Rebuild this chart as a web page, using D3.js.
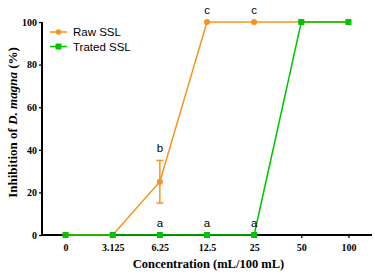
<!DOCTYPE html>
<html>
<head>
<meta charset="utf-8">
<script src="https://cdn.jsdelivr.net/npm/d3@7"></script>
<style>
  body { margin: 0; background: #fff; }
  svg { display: block; }
</style>
</head>
<body>
<svg id="chart"></svg>
<script>
// data
const concentrations = ['0', '3.125', '6.25', '12.5', '25', '50', '100'];
const rawValues = [0, 0, 25, 100, 100, 100, 100];
const rawErrors = [0, 0, 10, 0, 0, 0, 0];
const treatedValues = [0, 0, 0, 0, 0, 100, 100];
const rawLetters = ['', '', 'b', 'c', 'c', '', ''];
const treatedLetters = ['', '', 'a', 'a', 'a', '', ''];
const yTicks = [0, 20, 40, 60, 80, 100];

const width = 375, height = 277;
const margin = {top: 22, right: 3, bottom: 42, left: 42};
const orange = '#f7931e', green = '#00c400';

const svg = d3.select('#chart').attr('width', width).attr('height', height);

const x = d3.scalePoint()
    .domain(concentrations)
    .range([margin.left, width - margin.right])
    .padding(0.5);

const y = d3.scaleLinear()
    .domain([0, 100])
    .range([height - margin.bottom, margin.top]);

// axes
const xAxis = svg.append('g')
    .attr('transform', `translate(0,${y(0)})`)
    .call(d3.axisBottom(x).tickSize(3).tickPadding(6));
const yAxis = svg.append('g')
    .attr('transform', `translate(${margin.left},0)`)
    .call(d3.axisLeft(y).tickValues(yTicks).tickSize(3).tickPadding(2));

[xAxis, yAxis].forEach(g => {
    g.select('.domain').attr('stroke', '#000').attr('stroke-width', 2);
    g.selectAll('.tick line').attr('stroke', '#000').attr('stroke-width', 1.3);
    g.selectAll('.tick text')
        .attr('fill', '#000')
        .style('font-family', '"Liberation Serif", "Times New Roman", serif')
        .style('font-weight', 'bold')
        .style('font-size', '10px');
});
yAxis.select('.domain').attr('d', `M0,${y(0)}V${y(100)}`);
xAxis.select('.domain').attr('d', `M${margin.left},0H${width - margin.right}`);

// axis titles
svg.append('text')
    .attr('x', (margin.left + width) / 2)
    .attr('y', 268)
    .attr('text-anchor', 'middle')
    .style('font-family', '"Liberation Serif", "Times New Roman", serif')
    .style('font-weight', 'bold')
    .style('font-size', '12.5px')
    .text('Concentration (mL/100 mL)');

const yTitle = svg.append('text')
    .attr('transform', `translate(17,${(y(0) + y(100)) / 2 - 6}) rotate(-90)`)
    .attr('text-anchor', 'middle')
    .style('font-family', '"Liberation Serif", "Times New Roman", serif')
    .style('font-weight', 'bold')
    .style('font-size', '13px');
yTitle.append('tspan').text('Inhibition of ');
yTitle.append('tspan').style('font-style', 'italic').text('D. magna');
yTitle.append('tspan').text(' (%)');

const line = d3.line()
    .x((d, i) => x(concentrations[i]))
    .y(d => y(d));

// raw series
svg.append('path')
    .datum(rawValues)
    .attr('d', line)
    .attr('fill', 'none')
    .attr('stroke', orange)
    .attr('stroke-width', 1.5);

const errs = svg.append('g').attr('stroke', orange).attr('stroke-width', 1.5);
rawValues.forEach((v, i) => {
    if (!rawErrors[i]) return;
    const cx = x(concentrations[i]);
    errs.append('line').attr('x1', cx).attr('x2', cx)
        .attr('y1', y(v + rawErrors[i])).attr('y2', y(v - rawErrors[i]));
    [v + rawErrors[i], v - rawErrors[i]].forEach(e => {
        errs.append('line').attr('x1', cx - 3.5).attr('x2', cx + 3.5)
            .attr('y1', y(e)).attr('y2', y(e));
    });
});

svg.append('g').selectAll('circle')
    .data(rawValues)
    .join('circle')
    .attr('cx', (d, i) => x(concentrations[i]))
    .attr('cy', d => y(d))
    .attr('r', 3)
    .attr('fill', orange);

// treated series
svg.append('path')
    .datum(treatedValues)
    .attr('d', line)
    .attr('fill', 'none')
    .attr('stroke', green)
    .attr('stroke-width', 1.5);

svg.append('g').selectAll('rect')
    .data(treatedValues)
    .join('rect')
    .attr('x', (d, i) => x(concentrations[i]) - 3)
    .attr('y', d => y(d) - 3)
    .attr('width', 6)
    .attr('height', 6)
    .attr('fill', green);

// significance letters
const letterStyle = s => s
    .attr('text-anchor', 'middle')
    .style('font-family', '"Liberation Sans", Arial, sans-serif')
    .style('font-size', '11.5px')
    .attr('fill', '#000');

svg.append('g').selectAll('text')
    .data(rawValues)
    .join('text')
    .attr('x', (d, i) => x(concentrations[i]))
    .attr('y', (d, i) => y(d + rawErrors[i]) - 8)
    .text((d, i) => rawLetters[i])
    .call(letterStyle);

svg.append('g').selectAll('text')
    .data(treatedValues)
    .join('text')
    .attr('x', (d, i) => x(concentrations[i]))
    .attr('y', y(0) - 8)
    .text((d, i) => treatedLetters[i])
    .call(letterStyle);

// legend
const legend = svg.append('g').attr('transform', 'translate(50,32)');
const series = [
    {name: 'Raw SSL', color: orange, shape: 'circle'},
    {name: 'Trated SSL', color: green, shape: 'square'}
];
series.forEach((s, i) => {
    const g = legend.append('g').attr('transform', `translate(0,${i * 14.5})`);
    g.append('line').attr('x1', 0).attr('x2', 17)
        .attr('stroke', s.color).attr('stroke-width', 1.5);
    if (s.shape === 'circle') {
        g.append('circle').attr('cx', 8.5).attr('r', 2.8).attr('fill', s.color);
    } else {
        g.append('rect').attr('x', 5.5).attr('y', -3).attr('width', 6).attr('height', 6)
            .attr('fill', s.color);
    }
    g.append('text')
        .attr('x', 23)
        .attr('y', 4)
        .style('font-family', '"Liberation Sans", Arial, sans-serif')
        .style('font-size', '11.5px')
        .attr('fill', '#000')
        .text(s.name);
});
</script>
</body>
</html>
